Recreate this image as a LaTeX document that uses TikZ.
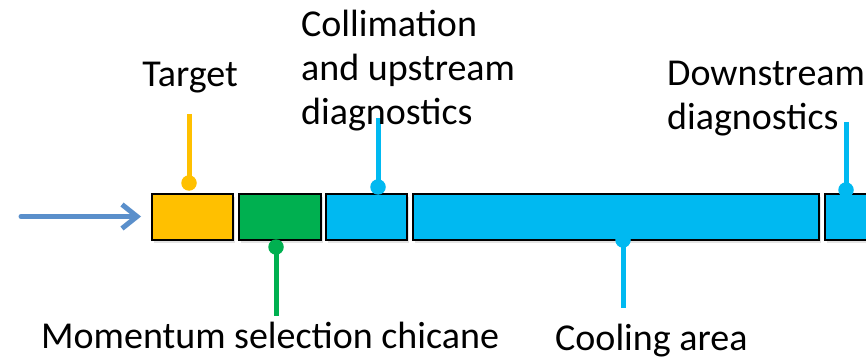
\documentclass[tikz,border=0pt]{standalone}
\usepackage{fontspec}
\setmainfont{Carlito}
\usetikzlibrary{arrows.meta,shadows}
\definecolor{tyellow}{HTML}{FFC000}
\definecolor{tgreen}{HTML}{00B050}
\definecolor{tblue}{HTML}{00B9F1}
\definecolor{tarrow}{HTML}{5A8FCB}
\begin{document}
\begin{tikzpicture}[x=1pt,y=-1pt,
  seg/.style={draw=black, line width=2pt, inner sep=0, minimum height=46pt,
    drop shadow={shadow xshift=2pt,shadow yshift=-2.5pt,opacity=0.22}},
  lbl/.style={font=\fontsize{38}{44}\selectfont, inner sep=0, align=left},
  pin/.style={line width=5pt},
  dot/.style={circle, inner sep=0, minimum size=15.5pt},
  beam/.style={tarrow, line width=5pt, line cap=round,
    -{Straight Barb[length=15pt,width=24pt]}}]
\clip (0,0) rectangle (866,358);
% segments
\node[seg, fill=tyellow, minimum width=81pt] (target) at (192.5,217) {};
\node[seg, fill=tgreen, minimum width=82pt] (chicane) at (280,217) {};
\node[seg, fill=tblue, minimum width=81pt] (collim) at (366.5,217) {};
\node[seg, fill=tblue, minimum width=406pt] (cooling) at (616,217) {};
\node[seg, fill=tblue, minimum width=60pt] (down) at (855,217) {};
% beam arrow
\coordinate (ain) at (21,216.5);
\draw[beam, shorten >=10pt] (ain) -- (target.west |- ain);
% pins
\node[dot, fill=tyellow] (tdot) at (189,183) {};
\coordinate (ttop) at (189,114);
\draw[pin, tyellow] (ttop) -- (tdot.center);
\node[dot, fill=tgreen] (cdot) at (276,247) {};
\coordinate (cbot) at (276,316);
\draw[pin, tgreen] (cdot.center) -- (cbot);
\node[dot, fill=tblue] (udot) at (378,187) {};
\coordinate (utop) at (378,118);
\draw[pin, tblue] (utop) -- (udot.center);
\node[dot, fill=tblue] (kdot) at (623,240) {};
\coordinate (kbot) at (623,308);
\draw[pin, tblue] (kdot.center) -- (kbot);
\node[dot, fill=tblue] (ddot) at (846,190) {};
\coordinate (dtop) at (846,122);
\draw[pin, tblue] (dtop) -- (ddot.center);
% labels
\node[lbl, anchor=base] (tlab) at (190,87) {Target};
\node[lbl, anchor=base west] (clab) at (301,125) {Collimation\\and upstream\\diagnostics};
\node[lbl, anchor=base west] (dlab) at (667,130) {Downstream\\diagnostics};
\node[lbl, anchor=base west] (mlab) at (41,348) {Momentum selection chicane};
\node[lbl, anchor=base west] (colab) at (555,350) {Cooling area};
\end{tikzpicture}
\end{document}
